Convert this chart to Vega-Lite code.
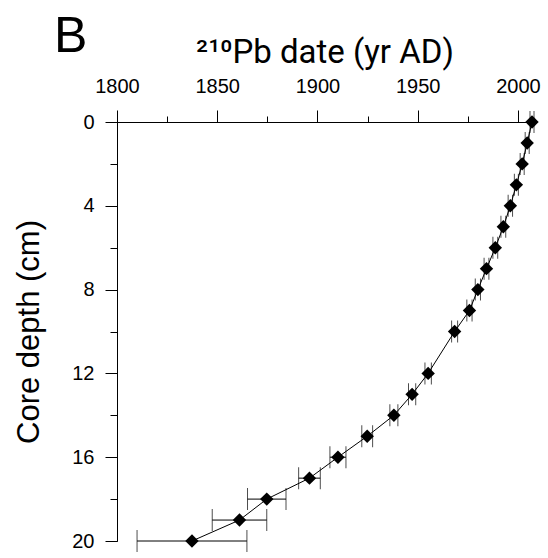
{
  "$schema": "https://vega.github.io/schema/vega-lite/v6.json",
  "width": 415,
  "height": 419,
  "autosize": {"type": "none"},
  "padding": {"left": 117, "top": 122, "right": 16, "bottom": 17},
  "background": "white",
  "config": {
    "font": "Liberation Sans",
    "view": {"stroke": null},
    "axis": {"domainColor": "black", "tickColor": "black", "labelColor": "black", "titleColor": "black", "labelFont": "Liberation Sans", "titleFont": "Liberation Sans", "titleFontWeight": "normal", "grid": false, "domainWidth": 1, "tickWidth": 1}
  },
  "title": {"text": "B", "anchor": "start", "frame": "group", "fontSize": 50, "fontWeight": "normal", "font": "Liberation Sans", "color": "black", "dx": -63, "offset": -26},
  "data": {"values": [
    {"depth": 0, "year": 2007.0, "lo": 2006.0, "hi": 2008.0},
    {"depth": 1, "year": 2004.6, "lo": 2003.6, "hi": 2005.6},
    {"depth": 2, "year": 2002.1, "lo": 2001.1, "hi": 2003.1},
    {"depth": 3, "year": 1999.2, "lo": 1998.2, "hi": 2000.2},
    {"depth": 4, "year": 1996.2, "lo": 1995.1, "hi": 1997.3},
    {"depth": 5, "year": 1992.7, "lo": 1991.5, "hi": 1993.9},
    {"depth": 6, "year": 1988.7, "lo": 1987.5, "hi": 1989.9},
    {"depth": 7, "year": 1984.3, "lo": 1983.1, "hi": 1985.5},
    {"depth": 8, "year": 1980.0, "lo": 1978.7, "hi": 1981.3},
    {"depth": 9, "year": 1975.8, "lo": 1974.5, "hi": 1977.1},
    {"depth": 10, "year": 1968.4, "lo": 1966.9, "hi": 1969.9},
    {"depth": 12, "year": 1955.2, "lo": 1953.6, "hi": 1956.8},
    {"depth": 13, "year": 1947.2, "lo": 1945.4, "hi": 1949.0},
    {"depth": 14, "year": 1938.1, "lo": 1936.1, "hi": 1940.1},
    {"depth": 15, "year": 1924.8, "lo": 1922.1, "hi": 1927.5},
    {"depth": 16, "year": 1910.2, "lo": 1906.2, "hi": 1914.2},
    {"depth": 17, "year": 1896.0, "lo": 1890.6, "hi": 1901.4},
    {"depth": 18, "year": 1874.7, "lo": 1865.1, "hi": 1884.3},
    {"depth": 19, "year": 1861.1, "lo": 1847.5, "hi": 1874.7},
    {"depth": 20, "year": 1837.4, "lo": 1810.0, "hi": 1864.8}
  ]},
  "resolve": {"axis": {"x": "independent", "y": "independent"}},
  "layer": [
    {
      "mark": {"type": "line", "color": "black", "strokeWidth": 1},
      "encoding": {
        "x": {"field": "year", "type": "quantitative", "scale": {"domain": [1800, 2007], "nice": false, "zero": false},
              "axis": {"orient": "top", "values": [1825, 1875, 1925, 1975], "tickSize": 6, "labels": false, "title": null, "domain": true}},
        "y": {"field": "depth", "type": "quantitative", "scale": {"domain": [0, 20], "reverse": true, "nice": false, "zero": false},
              "axis": {"orient": "left", "values": [2, 6, 10, 14, 18], "tickSize": 7, "labels": false, "title": null, "domain": true}},
        "order": {"field": "depth", "type": "quantitative"}
      }
    },
    {
      "mark": {"type": "rule", "color": "black", "strokeWidth": 1},
      "encoding": {
        "x": {"field": "lo", "type": "quantitative", "axis": null},
        "x2": {"field": "hi"},
        "y": {"field": "depth", "type": "quantitative", "axis": null}
      }
    },
    {
      "mark": {"type": "tick", "orient": "vertical", "color": "black", "size": 22, "thickness": 1},
      "encoding": {
        "x": {"field": "lo", "type": "quantitative", "axis": null},
        "y": {"field": "depth", "type": "quantitative", "axis": null}
      }
    },
    {
      "mark": {"type": "tick", "orient": "vertical", "color": "black", "size": 22, "thickness": 1},
      "encoding": {
        "x": {"field": "hi", "type": "quantitative", "axis": null},
        "y": {"field": "depth", "type": "quantitative", "axis": null}
      }
    },
    {
      "mark": {"type": "point", "shape": "diamond", "filled": true, "color": "black", "size": 180, "opacity": 1},
      "encoding": {
        "x": {"field": "year", "type": "quantitative",
              "axis": {"orient": "top", "values": [1800, 1850, 1900, 1950, 2000], "format": "d", "tickSize": 12, "labelPadding": 14, "labelFontSize": 20, "labelFlush": false,
                       "title": "²¹⁰Pb date (yr AD)", "titleFont": "Roboto", "titleFontSize": 33, "titlePadding": 7}},
        "y": {"field": "depth", "type": "quantitative",
              "axis": {"orient": "left", "values": [0, 4, 8, 12, 16, 20], "tickSize": 12, "labelPadding": 11, "labelFontSize": 20, "labelFlush": false,
                       "title": "Core depth (cm)", "titleFontSize": 31, "titlePadding": 26}}
      }
    }
  ]
}
